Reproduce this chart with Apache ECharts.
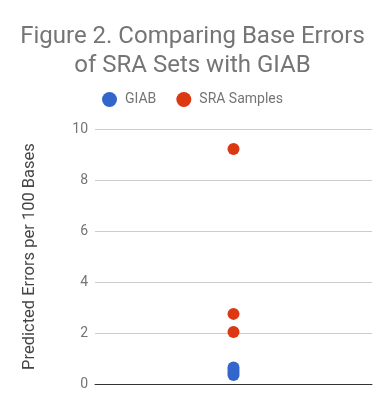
<!DOCTYPE html>
<html><head><meta charset="utf-8">
<script src="https://cdn.jsdelivr.net/npm/echarts@6/dist/echarts.min.js"></script>
<style>html,body{margin:0;padding:0;background:#fff}#c{width:385px;height:413px}</style>
</head><body><div id="c"></div>
<script>
var categories = [''];
var giabValues = [0.35, 0.45, 0.55, 0.65];
var sraValues = [9.22, 2.75, 2.04];
var yTicks = [0, 2, 4, 6, 8, 10];

var chart = echarts.init(document.getElementById('c'));
chart.setOption({
  animation: false,
  textStyle: {fontFamily: 'Roboto'},
  title: {
    text: 'Figure 2. Comparing Base Errors\nof SRA Sets with GIAB',
    left: 'center', top: 17,
    textStyle: {fontFamily: 'Roboto', fontSize: 24, fontWeight: 'normal', color: '#757575', lineHeight: 29}
  },
  legend: {
    top: 87, left: 'center', itemWidth: 15, itemHeight: 15, itemGap: 20,
    icon: 'circle',
    textStyle: {fontSize: 14, color: '#757575', padding: [0, 0, 0, 3]},
    data: ['GIAB', 'SRA Samples']
  },
  grid: {left: 95, right: 13, top: 129, bottom: 29},
  xAxis: {
    type: 'category', data: categories,
    axisLine: {lineStyle: {color: '#333', width: 1}},
    axisTick: {show: false}, axisLabel: {show: false}
  },
  yAxis: {
    type: 'value', min: yTicks[0], max: yTicks[yTicks.length - 1], interval: 2,
    name: 'Predicted Errors per 100 Bases', nameLocation: 'middle', nameGap: 57,
    nameTextStyle: {fontSize: 16.5, color: '#444'},
    axisLine: {show: false}, axisTick: {show: false},
    axisLabel: {fontSize: 14, color: '#757575', margin: 7},
    splitLine: {lineStyle: {color: '#ccc'}}
  },
  series: [
    {name: 'GIAB', type: 'scatter', symbolSize: 12, itemStyle: {color: '#3366CC', opacity: 1},
     data: giabValues.map(function (v) { return [categories[0], v]; })},
    {name: 'SRA Samples', type: 'scatter', symbolSize: 12, itemStyle: {color: '#DC3912', opacity: 1},
     data: sraValues.map(function (v) { return [categories[0], v]; })}
  ]
});
</script></body></html>
